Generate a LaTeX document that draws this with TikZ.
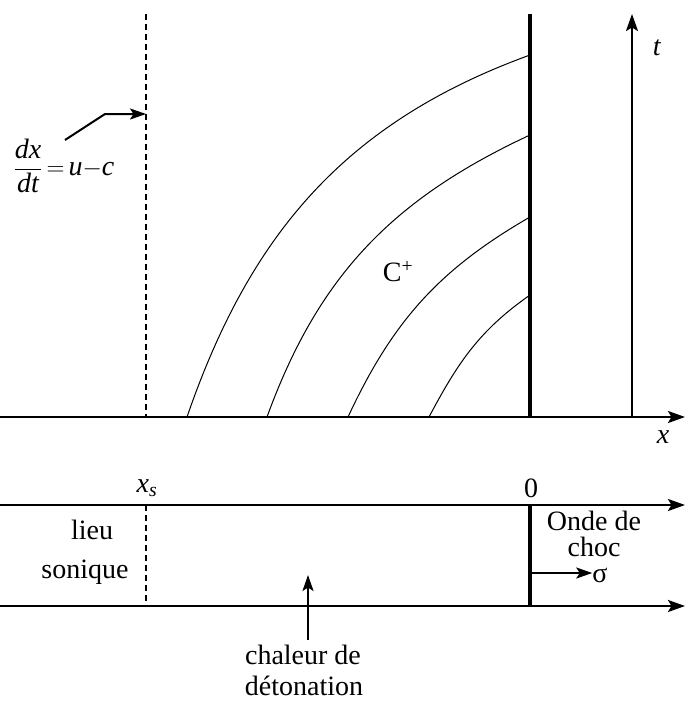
\documentclass[tikz,border=0pt]{standalone}
\usepackage{fontspec}
\setmainfont{Liberation Serif}
\usetikzlibrary{arrows.meta}
\begin{document}
\begin{tikzpicture}[x=1pt,y=-1pt,
  every node/.style={font=\fontsize{28}{32}\selectfont, inner sep=0pt},
  axis/.style={line width=2.4pt, -{Stealth[length=17pt,width=12pt,inset=3.5pt]}},
  shock/.style={line width=4.2pt},
  sonic/.style={line width=1.6pt, dash pattern=on 6pt off 4pt},
  charac/.style={line width=1pt},
  pointer/.style={line width=2pt, -{Stealth[length=16pt,width=11pt,inset=3.5pt]}}]
\useasboundingbox (0,0) rectangle (685,702);
% coordinates
\coordinate (axL) at (0,417);
\coordinate (axR) at (685,417);
\coordinate (shT) at (530,14);
\coordinate (shB) at (530,417);
\coordinate (tB) at (632,417);
\coordinate (tT) at (632,14);
\coordinate (soT) at (146,14);
\coordinate (soB) at (146,417);
% top diagram
\draw[sonic] (soT) -- (soB);
\draw[charac] (187,417) to[out=71,in=200] (530,55);
\draw[charac] (267,417) to[out=70,in=205] (530,135);
\draw[charac] (348,417) to[out=65,in=210] (530,217);
\draw[charac] (429,417) to[out=62,in=215] (530,295);
\draw[shock] (shT) -- (shB);
\draw[axis] (axL) -- (axR);
\draw[axis, line width=2pt] (tB) -- (tT);
\node (tlab) at (657,48) {\textit{t}};
\node (xlab) at (663,437) {\textit{x}};
\node (Cp) at (398,272) {C\textsuperscript{+}};
\node (eq) at (64,166) {$\displaystyle\frac{\textit{dx}}{\textit{dt}}\mkern3mu{=}\mkern3mu\textit{u}{-}\textit{c}$};
\coordinate (eqA) at (65,140);
\coordinate (eqK) at (105,114);
\coordinate (eqE) at (146,114);
\draw[pointer] (eqA) -- (eqK) -- (eqE);
% bottom diagram
\coordinate (b1L) at (0,505);
\coordinate (b1R) at (685,505);
\coordinate (b2L) at (0,606);
\coordinate (b2R) at (685,606);
\draw[axis] (b1L) -- (b1R);
\draw[axis] (b2L) -- (b2R);
\draw[sonic] (146,505) -- (146,606);
\draw[shock] (530,505) -- (530,606);
\node (xs) at (147,488) {\textit{x}\textsubscript{\textit{s}}};
\node (zero) at (531,488) {0};
\node (lieu) at (92,530) {lieu};
\node (son) at (85,572) {sonique};
\node (onde) at (594,521) {Onde de};
\node (choc) at (594,547) {choc};
\coordinate (sgA) at (532,573);
\node (sig) at (600,575) {σ};
\draw[pointer] (sgA) -- (sgA -| sig.west);
\node (chal) at (303,655) {chaleur de};
\node (deto) at (304,686) {détonation};
\coordinate (chT) at (308,575);
\draw[pointer] (308,640) -- (chT);
\end{tikzpicture}
\end{document}
